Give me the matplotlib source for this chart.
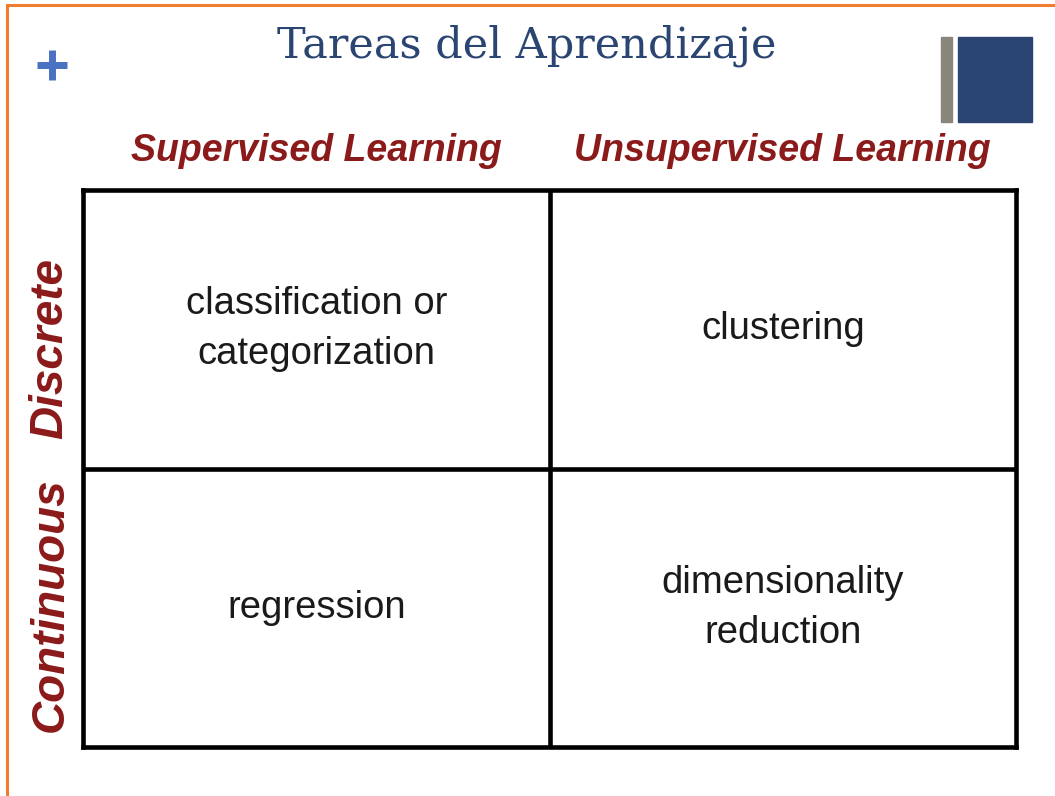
import matplotlib.pyplot as plt
from matplotlib.patches import Rectangle
from matplotlib.lines import Line2D

# Contenido de la tabla
col_labels = ["Supervised Learning", "Unsupervised Learning"]
row_labels = ["Discrete", "Continuous"]
cells = [
    ["classification or\ncategorization", "clustering"],
    ["regression", "dimensionality\nreduction"],
]
title = "Tareas del Aprendizaje"

W, H = 1055, 796
fig = plt.figure(figsize=(W / 100, H / 100), dpi=100)
fig.patch.set_facecolor("white")

def fx(px):
    return px / W

def fy(py):
    return 1 - py / H

# Borde naranja (arriba e izquierda)
fig.add_artist(Line2D([fx(7), 1], [fy(5), fy(5)], color="#ef7d31", lw=2.2))
fig.add_artist(Line2D([fx(7), fx(7)], [fy(5), 0], color="#ef7d31", lw=2.2))

# Signo + y bloques decorativos
plus_col = "#4a72c2"
fig.add_artist(Line2D([fx(37), fx(67)], [fy(65), fy(65)], color=plus_col, lw=5,
                      solid_capstyle="butt"))
fig.add_artist(Line2D([fx(52), fx(52)], [fy(50), fy(80)], color=plus_col, lw=5,
                      solid_capstyle="butt"))
fig.add_artist(Rectangle((fx(941), fy(122)), fx(11), 85 / H, color="#8a857a"))
fig.add_artist(Rectangle((fx(958), fy(122)), fx(74), 85 / H, color="#2b4572"))

# Titulo
fig.text(fx(527), fy(46), title, color="#2b4572", fontsize=31,
         ha="center", va="center", family="DejaVu Serif")

# Tabla 2x2
left, top, right, bottom = 83, 190, 1016, 747
ax = fig.add_axes([fx(left), fy(bottom), (right - left) / W, (bottom - top) / H])
ax.set_xlim(0, 2)
ax.set_ylim(2, 0)
ax.set_xticks([])
ax.set_yticks([])
for sp in ax.spines.values():
    sp.set_linewidth(3.3)
    sp.set_color("black")
ax.axvline(1, color="black", lw=3.3)
ax.axhline(1, color="black", lw=3.3)

sans = ["Liberation Sans", "DejaVu Sans"]
for i, row in enumerate(cells):
    for j, txt in enumerate(row):
        ax.text(j + 0.5, i + 0.5, txt, ha="center", va="center", fontsize=27.5,
                color="#1a1a1a", family=sans, linespacing=1.5)

for j, lab in enumerate(col_labels):
    ax.text(j + 0.5, -0.14, lab, ha="center", va="center", fontsize=27,
            fontweight="bold", fontstyle="italic", color="#8b1a1a",
            family=sans, clip_on=False)

row_shift = [0.07, -0.01]
for i, lab in enumerate(row_labels):
    ax.text(-0.07, i + 0.5 + row_shift[i], lab, ha="center", va="center",
            rotation=90, fontsize=33, fontweight="bold", fontstyle="italic",
            color="#8b1a1a", family=sans, clip_on=False)

fig.savefig("out.png", dpi=100)
